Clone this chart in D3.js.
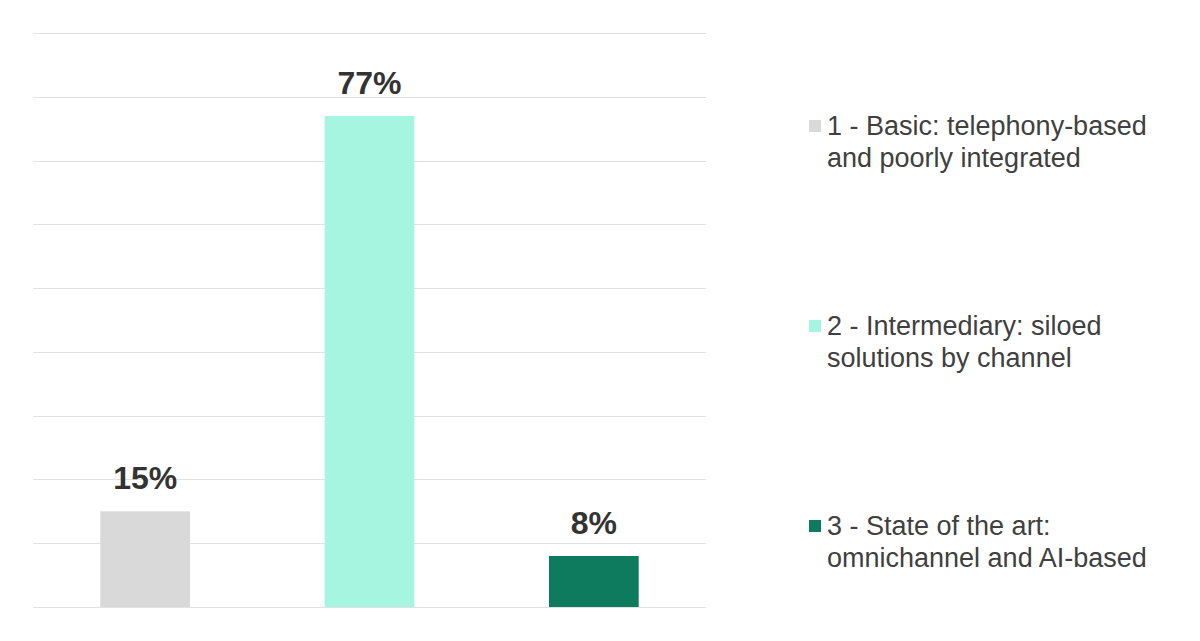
<!DOCTYPE html>
<html><head><meta charset="utf-8">
<script src="https://cdn.jsdelivr.net/npm/d3@7"></script>
<style>html,body{margin:0;padding:0;background:#fff;}svg{display:block;}</style>
</head><body>
<svg id="chart" width="1200" height="641"></svg>
<script>
const categories = ["1 - Basic: telephony-based and poorly integrated", "2 - Intermediary: siloed solutions by channel", "3 - State of the art: omnichannel and AI-based"];
const legendLines = [["1 - Basic: telephony-based", "and poorly integrated"], ["2 - Intermediary: siloed", "solutions by channel"], ["3 - State of the art:", "omnichannel and AI-based"]];
const values = [15, 77, 8];
const valueLabels = ["15%", "77%", "8%"];
const colors = ["#d9d9d9", "#a6f5e1", "#0e7a5e"];
const gridTicks = [0, 10, 20, 30, 40, 50, 60, 70, 80, 90];

const svg = d3.select("#chart");
const margin = {left: 33, right: 494, top: 33, bottom: 34};
const W = 1200, H = 641;
const x = d3.scaleBand().domain(categories).range([margin.left, W - margin.right]).paddingInner(0.6).paddingOuter(0.3);
const y = d3.scaleLinear().domain([0, 90]).range([H - margin.bottom, margin.top]);

svg.append("g").selectAll("line").data(gridTicks).join("line")
  .attr("x1", margin.left).attr("x2", W - margin.right)
  .attr("y1", d => Math.round(y(d)) + 0.5).attr("y2", d => Math.round(y(d)) + 0.5)
  .attr("stroke", "#e2e2e2").attr("stroke-width", 1);

svg.append("g").selectAll("rect").data(values).join("rect")
  .attr("x", (d, i) => x(categories[i])).attr("width", x.bandwidth())
  .attr("y", d => y(d)).attr("height", d => y(0) - y(d))
  .attr("fill", (d, i) => colors[i]);

svg.append("g").selectAll("text").data(values).join("text")
  .attr("x", (d, i) => x(categories[i]) + x.bandwidth() / 2)
  .attr("y", d => y(d) - 22)
  .attr("text-anchor", "middle")
  .attr("font-family", "Liberation Sans, Arial, sans-serif")
  .attr("font-weight", "bold").attr("font-size", 32)
  .attr("fill", "#333333")
  .text((d, i) => valueLabels[i]);

const leg = svg.append("g").selectAll("g").data(legendLines).join("g")
  .attr("transform", (d, i) => `translate(809, ${126 + i * 200})`);
leg.append("rect").attr("x", 0).attr("y", -6).attr("width", 12).attr("height", 12)
  .attr("fill", (d, i) => colors[i]);
leg.each(function(lines) {
  const g = d3.select(this);
  lines.forEach((t, j) => {
    g.append("text").attr("x", 18).attr("y", 9 + j * 32)
      .attr("font-family", "Liberation Sans, Arial, sans-serif")
      .attr("font-size", 27).attr("fill", "#404040").text(t);
  });
});
</script>
</body></html>
